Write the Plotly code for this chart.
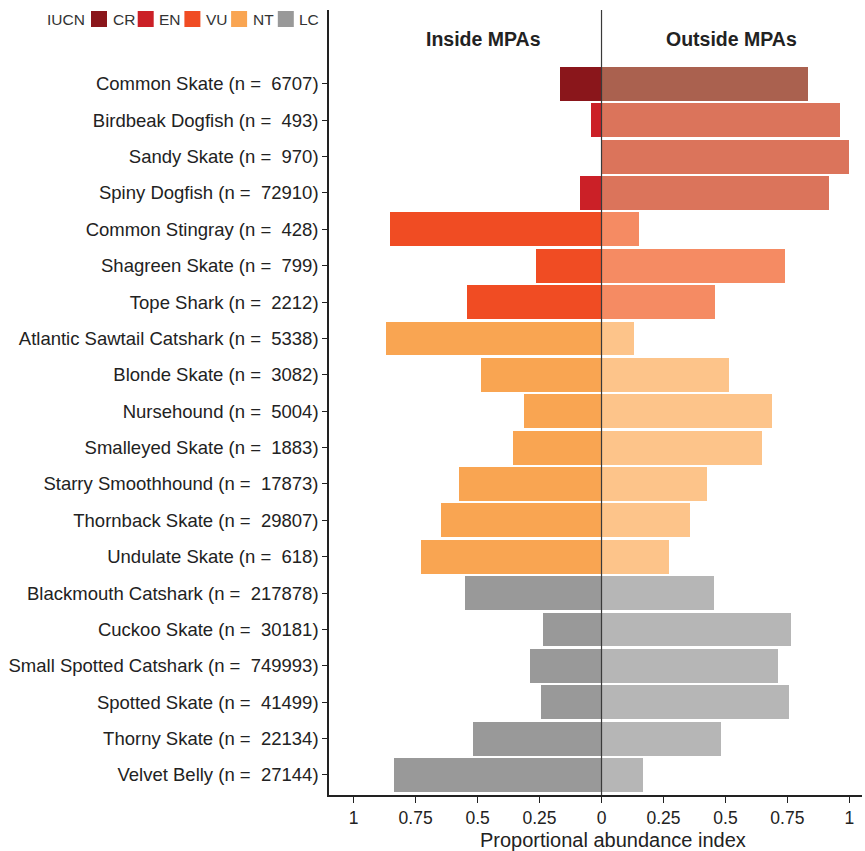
import plotly.graph_objects as go

# Species (top to bottom), sample sizes and IUCN status
species = [
    "Common Skate", "Birdbeak Dogfish", "Sandy Skate", "Spiny Dogfish",
    "Common Stingray", "Shagreen Skate", "Tope Shark", "Atlantic Sawtail Catshark",
    "Blonde Skate", "Nursehound", "Smalleyed Skate", "Starry Smoothhound",
    "Thornback Skate", "Undulate Skate", "Blackmouth Catshark", "Cuckoo Skate",
    "Small Spotted Catshark", "Spotted Skate", "Thorny Skate", "Velvet Belly",
]
n_obs = [6707, 493, 970, 72910, 428, 799, 2212, 5338, 3082, 5004,
         1883, 17873, 29807, 618, 217878, 30181, 749993, 41499, 22134, 27144]
iucn = ["CR", "EN", "EN", "EN", "VU", "VU", "VU", "NT", "NT", "NT",
        "NT", "NT", "NT", "NT", "LC", "LC", "LC", "LC", "LC", "LC"]

# Proportional abundance index inside / outside MPAs
inside = [0.167, 0.041, 0.0, 0.085, 0.852, 0.263, 0.541, 0.869, 0.485, 0.311,
          0.357, 0.574, 0.647, 0.727, 0.549, 0.235, 0.288, 0.244, 0.518, 0.836]
outside = [0.834, 0.964, 1.0, 0.916, 0.153, 0.742, 0.458, 0.132, 0.514, 0.688,
           0.646, 0.427, 0.358, 0.273, 0.453, 0.766, 0.713, 0.757, 0.483, 0.168]

status_order = ["CR", "EN", "VU", "NT", "LC"]
col_inside = {"CR": "#8A161B", "EN": "#CB2027", "VU": "#F04C23", "NT": "#F9A552", "LC": "#999999"}
col_outside = {"CR": "#AA614F", "EN": "#DB745B", "VU": "#F58B63", "NT": "#FDC48A", "LC": "#B6B6B6"}

labels = [f"{s} (n = \u00a0{n})" for s, n in zip(species, n_obs)]

W, H = 865, 851
ML, MR, MT, MB = 329, 3, 10, 56
PW, PH = W - ML - MR, H - MT - MB

def px_x(px):
    return (px - ML) / PW

def px_y(py):
    return (H - MB - py) / PH

TXT = "#222222"

fig = go.Figure()
fig.add_trace(go.Bar(
    y=labels, x=[-v for v in inside], orientation="h", width=0.93,
    marker=dict(color=[col_inside[s] for s in iucn], line=dict(width=0)),
    showlegend=False, hoverinfo="skip",
))
fig.add_trace(go.Bar(
    y=labels, x=outside, orientation="h", width=0.93,
    marker=dict(color=[col_outside[s] for s in iucn], line=dict(width=0)),
    showlegend=False, hoverinfo="skip",
))

shapes = [dict(type="line", xref="x", yref="paper", x0=0, x1=0, y0=0, y1=1,
               line=dict(color="#3a3a3a", width=1.2), layer="above")]
annotations = [
    dict(text="<b>Inside MPAs</b>", x=-0.478, y=-1.22, xref="x", yref="y",
         showarrow=False, font=dict(size=19.5, color=TXT)),
    dict(text="<b>Outside MPAs</b>", x=0.523, y=-1.22, xref="x", yref="y",
         showarrow=False, font=dict(size=19.5, color=TXT)),
    dict(text="Proportional abundance index", x=px_x(613), y=px_y(840),
         xref="paper", yref="paper", xanchor="center", yanchor="middle",
         showarrow=False, font=dict(size=20, color=TXT)),
    dict(text="IUCN", x=px_x(45), y=px_y(19), xref="paper", yref="paper",
         xanchor="left", yanchor="middle", showarrow=False,
         font=dict(size=15.5, color="#333333")),
]

# IUCN colour key
x0 = 91
for s in status_order:
    shapes.append(dict(type="rect", xref="paper", yref="paper",
                       x0=px_x(x0), x1=px_x(x0 + 16), y0=px_y(27), y1=px_y(11),
                       fillcolor=col_inside[s], line=dict(width=0)))
    annotations.append(dict(text=s, x=px_x(x0 + 19.5), y=px_y(19), xref="paper", yref="paper",
                            xanchor="left", yanchor="middle", showarrow=False,
                            font=dict(size=15.5, color="#333333")))
    x0 += 46.7

tick_vals = [-1, -0.75, -0.5, -0.25, 0, 0.25, 0.5, 0.75, 1]
tick_text = ["1", "0.75", "0.5", "0.25", "0", "0.25", "0.5", "0.75", "1"]

fig.update_layout(
    width=W, height=H,
    margin=dict(l=ML, r=MR, t=MT, b=MB, pad=0),
    paper_bgcolor="white", plot_bgcolor="white",
    barmode="overlay", bargap=0,
    font=dict(family="Liberation Sans, Arial, sans-serif", color=TXT),
    shapes=shapes, annotations=annotations,
    xaxis=dict(
        range=[-1.0996, 1.051], tickvals=tick_vals, ticktext=tick_text,
        ticks="outside", ticklen=6, tickwidth=1.2, tickcolor=TXT,
        showline=True, linecolor=TXT, linewidth=1.5,
        showgrid=False, zeroline=False,
        tickfont=dict(size=17.5, color=TXT),
    ),
    yaxis=dict(
        categoryorder="array", categoryarray=labels,
        range=[19.55, -2.03],
        ticks="outside", ticklen=5, tickwidth=1.2, tickcolor=TXT,
        showline=True, linecolor=TXT, linewidth=1.5,
        showgrid=False, zeroline=False,
        tickfont=dict(size=18.5, color=TXT),
    ),
)

fig.write_html("out.html")
